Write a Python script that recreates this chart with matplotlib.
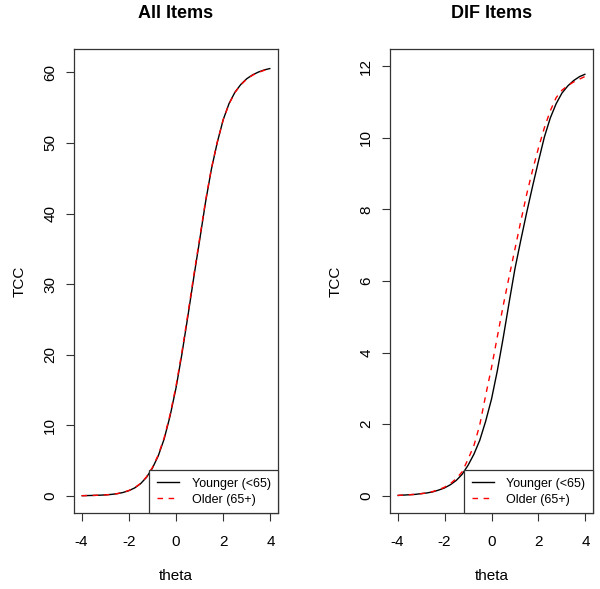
import matplotlib
matplotlib.use("Agg")
import matplotlib.pyplot as plt
from matplotlib.lines import Line2D

plt.rcParams['font.family'] = ['Liberation Sans', 'DejaVu Sans']

theta = [-4.00, -3.75, -3.50, -3.25, -3.00, -2.75, -2.50, -2.25, -2.00, -1.75,
         -1.50, -1.25, -1.00, -0.75, -0.50, -0.25, 0.00, 0.25, 0.50, 0.75,
         1.00, 1.25, 1.50, 1.75, 2.00, 2.25, 2.50, 2.75, 3.00, 3.25,
         3.50, 3.75, 4.00]

# All Items TCC
all_younger = [0.05, 0.07, 0.09, 0.12, 0.16, 0.23, 0.33, 0.50, 0.76, 1.15,
               1.75, 2.65, 3.95, 5.70, 8.10, 11.35, 15.30, 20.10, 25.40, 30.90,
               36.20, 41.60, 46.30, 50.10, 53.30, 55.60, 57.20, 58.30, 59.10, 59.65,
               60.05, 60.35, 60.55]
all_older = [0.05, 0.07, 0.09, 0.12, 0.16, 0.23, 0.34, 0.51, 0.78, 1.18,
             1.79, 2.71, 4.03, 5.82, 8.26, 11.55, 15.55, 20.40, 25.70, 31.20,
             36.45, 41.80, 46.40, 50.15, 53.30, 55.55, 57.15, 58.25, 59.05, 59.60,
             60.00, 60.30, 60.50]

# DIF Items TCC
dif_younger = [0.01, 0.02, 0.03, 0.04, 0.06, 0.08, 0.11, 0.16, 0.22, 0.31,
               0.43, 0.60, 0.85, 1.16, 1.55, 2.08, 2.70, 3.50, 4.42, 5.40,
               6.35, 7.15, 7.92, 8.65, 9.35, 10.02, 10.55, 10.95, 11.25, 11.45,
               11.60, 11.71, 11.78]
dif_older = [0.01, 0.02, 0.03, 0.04, 0.06, 0.08, 0.12, 0.17, 0.24, 0.34,
             0.48, 0.67, 1.02, 1.40, 1.98, 2.80, 3.58, 4.45, 5.32, 6.12,
             6.90, 7.68, 8.43, 9.10, 9.72, 10.28, 10.75, 11.12, 11.33, 11.46,
             11.56, 11.64, 11.72]

titles = ["All Items", "DIF Items"]
legend_labels = ["Younger (<65)", "Older (65+)"]
x_ticks = [-4, -2, 0, 2, 4]
y_ticks_all = [0, 10, 20, 30, 40, 50, 60]
y_ticks_dif = [0, 2, 4, 6, 8, 10, 12]

fig = plt.figure(figsize=(6.0, 5.89), dpi=100)
W, H = 600, 589
boxes = [(74, 49, 278, 513), (390, 49, 593, 513)]
ylims = [(-2.4, 63.3), (-0.48, 12.48)]
series = [(all_younger, all_older), (dif_younger, dif_older)]
yticks = [y_ticks_all, y_ticks_dif]

edge = '#333333'
for i in range(2):
    x0, y0, x1, y1 = boxes[i]
    ax = fig.add_axes([x0 / W, 1 - y1 / H, (x1 - x0) / W, (y1 - y0) / H])
    yy, yo = series[i]
    ax.plot(theta, yy, color='black', lw=1.0, solid_capstyle='butt')
    ax.plot(theta, yo, color='red', lw=1.0, linestyle=(0, (4, 4)))
    ax.set_xlim(-4.32, 4.32)
    ax.set_ylim(*ylims[i])
    ax.set_xticks(x_ticks)
    ax.set_yticks(yticks[i])
    ax.set_xticklabels([str(v) for v in x_ticks])
    ax.set_yticklabels([str(v) for v in yticks[i]], rotation=90, va='center')
    ax.tick_params(axis='both', direction='out', length=6, width=0.8,
                   color=edge, labelsize=11)
    ax.tick_params(axis='x', pad=10)
    ax.tick_params(axis='y', pad=6)
    for s in ax.spines.values():
        s.set_color(edge)
        s.set_linewidth(0.9)
    ax.set_title(titles[i], fontsize=13, fontweight='bold', pad=22)
    ax.set_xlabel("theta", fontsize=11, labelpad=14)
    ax.set_ylabel("TCC", fontsize=11, labelpad=12)
    handles = [Line2D([], [], color='black', lw=1.0),
               Line2D([], [], color='red', lw=1.0, linestyle=(0, (4, 4)))]
    leg = ax.legend(handles, legend_labels, loc='lower right', borderaxespad=0,
                    fancybox=False, framealpha=1, edgecolor=edge, fontsize=9,
                    handlelength=1.8, handletextpad=1.0, borderpad=0.6,
                    labelspacing=0.3)
    leg.get_frame().set_linewidth(0.9)

fig.savefig("out.png", dpi=100)
